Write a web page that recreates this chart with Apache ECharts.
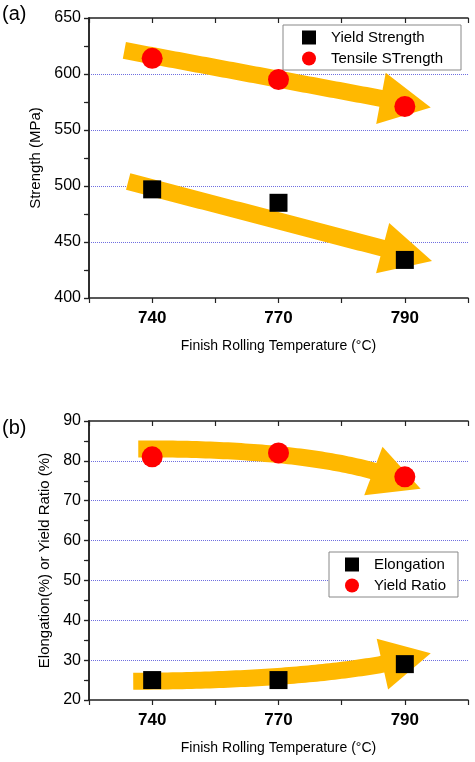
<!DOCTYPE html>
<html>
<head>
<meta charset="utf-8">
<script src="https://cdn.jsdelivr.net/npm/echarts@6/dist/echarts.min.js"></script>
<style>
  html, body { margin: 0; padding: 0; background: #fff; }
  #chart { width: 475px; height: 762px; }
</style>
</head>
<body>
<div id="chart"></div>
<script>
// categories (finish rolling temperature, degC)
var temps = ['740', '770', '790'];
// panel (a) strength, MPa
var yieldStrength = [497, 485, 434];
var tensileStrength = [614, 595, 571];
// panel (b) percent
var elongation = [25, 25, 29];
var yieldRatio = [81, 82, 76];
// tick labels
var strengthTicks = [400, 450, 500, 550, 600, 650];
var percentTicks = [20, 30, 40, 50, 60, 70, 80, 90];

// trend arrows: start, (bend control), tip as [x position, value]
var tensileArrow = [[0.56, 621], [5.41, 570]];
var yieldArrow = [[0.62, 504], [5.43, 433]];
var ratioArrow = [[0.78, 83], [4.0, 83.2], [5.25, 73]];
var elongArrow = [[0.7, 24.7], [3.9, 24.9], [5.41, 31.7]];

var FONT = 'Liberation Sans, Arial, sans-serif';
var ORANGE = '#FFB800';
var AXIS = '#222';

// categories sit on every second tick: 1, 3, 5
function xPos(i) { return i * 2 + 1; }
function pairs(vals) { return vals.map(function (v, i) { return [xPos(i), v]; }); }

function arrowSeries(points, xi, yi) {
  return {
    type: 'custom',
    name: 'arrow',
    xAxisIndex: xi,
    yAxisIndex: yi,
    z: 1,
    silent: true,
    data: points,
    encode: { x: 0, y: 1 },
    renderItem: function (params, api) {
      if (params.dataIndex !== 0) return;
      var p = points.map(function (d) { return api.coord(d); });
      var a = p[0], b = p[p.length - 1];
      var c = p.length === 3 ? p[1] : [(a[0] + b[0]) / 2, (a[1] + b[1]) / 2];
      var s = [];
      for (var k = 0; k <= 80; k++) {
        var t = k / 80, u = 1 - t;
        s.push([u * u * a[0] + 2 * u * t * c[0] + t * t * b[0],
                u * u * a[1] + 2 * u * t * c[1] + t * t * b[1]]);
      }
      var headLen = 48, headW = 52;
      var cut = s.length - 1;
      while (cut > 0 && Math.hypot(b[0] - s[cut][0], b[1] - s[cut][1]) < headLen) cut--;
      var base = s[cut];
      var dx = b[0] - base[0], dy = b[1] - base[1];
      var len = Math.hypot(dx, dy);
      dx /= len; dy /= len;
      var nx = -dy * headW / 2, ny = dx * headW / 2;
      var body = s.slice(0, cut + 1);
      body.push([base[0] + dx * 2, base[1] + dy * 2]);
      return {
        type: 'group',
        children: [
          { type: 'polyline', shape: { points: body },
            style: { stroke: ORANGE, lineWidth: 17, fill: null, lineCap: 'butt' } },
          { type: 'polygon', shape: { points: [[base[0] + nx, base[1] + ny], b, [base[0] - nx, base[1] - ny]] },
            style: { fill: ORANGE } }
        ]
      };
    }
  };
}

function xAxes(grid) {
  return [{
    type: 'value', gridIndex: grid, position: 'bottom', min: 0, max: 6, interval: 1,
    name: 'Finish Rolling Temperature (°C)', nameLocation: 'middle', nameGap: 41,
    nameTextStyle: { fontFamily: FONT, fontSize: 14, color: '#000' },
    axisLine: { lineStyle: { color: AXIS, width: 1.5 } },
    axisTick: { length: 5, lineStyle: { color: AXIS, width: 1.2 } },
    axisLabel: {
      margin: 12, fontFamily: FONT, fontSize: 17, fontWeight: 'bold', color: '#000',
      formatter: function (v) {
        var i = (v - 1) / 2;
        return (i >= 0 && i % 1 === 0 && temps[i]) ? temps[i] : '';
      }
    },
    splitLine: { show: false }
  }, {
    type: 'value', gridIndex: grid, position: 'top', min: 0, max: 6, interval: 1,
    axisLine: { lineStyle: { color: AXIS, width: 1.5 } },
    axisTick: { inside: true, length: 5, lineStyle: { color: AXIS, width: 1.2 } },
    axisLabel: { show: false },
    splitLine: { show: false }
  }];
}

function yAxes(grid, ticks, name, gap) {
  var lo = ticks[0], hi = ticks[ticks.length - 1], step = ticks[1] - ticks[0];
  return [{
    type: 'value', gridIndex: grid, position: 'left', min: lo, max: hi, interval: step,
    name: name, nameLocation: 'middle', nameGap: gap,
    nameTextStyle: { fontFamily: FONT, fontSize: 15, color: '#000' },
    axisLine: { show: true, lineStyle: { color: AXIS, width: 1.5 } },
    axisTick: { show: true, length: 5, lineStyle: { color: AXIS, width: 1.2 } },
    minorTick: { show: true, splitNumber: 2, length: 3, lineStyle: { color: AXIS, width: 1.2 } },
    axisLabel: { margin: 8, fontFamily: FONT, fontSize: 16, color: '#000' },
    splitLine: { show: true, showMinLine: false, showMaxLine: false,
      lineStyle: { color: '#6f6fe0', type: 'dotted', width: 1 } }
  }, {
    type: 'value', gridIndex: grid, position: 'right', min: lo, max: hi, interval: step,
    axisLine: { show: true, lineStyle: { color: AXIS, width: 1.5 } },
    axisTick: { show: true, inside: true, length: 5, lineStyle: { color: AXIS, width: 1.2 } },
    minorTick: { show: true, splitNumber: 2, length: 5, lineStyle: { color: AXIS, width: 1.2 } },
    axisLabel: { show: false },
    splitLine: { show: false }
  }];
}

function legend(names, left, top, pad) {
  return {
    data: names, orient: 'vertical', left: left, top: top,
    padding: pad, itemGap: 6, itemWidth: 14, itemHeight: 14,
    borderColor: '#888', borderWidth: 1, backgroundColor: '#fff',
    textStyle: { fontFamily: FONT, fontSize: 15, color: '#000', padding: [0, 0, 0, 10] }
  };
}

var chart = echarts.init(document.getElementById('chart'), null, { renderer: 'canvas' });
chart.setOption({
  animation: false,
  backgroundColor: '#fff',
  grid: [
    { left: 89, top: 18, width: 379, height: 280 },
    { left: 89, top: 421, width: 379, height: 279 }
  ],
  xAxis: xAxes(0).concat(xAxes(1)),
  yAxis: yAxes(0, strengthTicks, 'Strength (MPa)', 45).concat(yAxes(1, percentTicks, 'Elongation(%) or Yield Ratio (%)', 35)),
  legend: [
    legend(['Yield Strength', 'Tensile STrength'], 283, 25, [5, 18, 4, 19]),
    legend(['Elongation', 'Yield Ratio'], 329, 552, [5, 12, 4, 16])
  ],
  graphic: [
    { type: 'text', left: 2, top: 4, style: { text: '(a)', fontFamily: FONT, fontSize: 20, fill: '#000' } },
    { type: 'text', left: 2, top: 418, style: { text: '(b)', fontFamily: FONT, fontSize: 20, fill: '#000' } }
  ],
  series: [
    arrowSeries(tensileArrow, 0, 0),
    arrowSeries(yieldArrow, 0, 0),
    arrowSeries(ratioArrow, 2, 2),
    arrowSeries(elongArrow, 2, 2),
    { name: 'Yield Strength', type: 'scatter', xAxisIndex: 0, yAxisIndex: 0, z: 5,
      symbol: 'rect', symbolSize: 18, itemStyle: { color: '#000', opacity: 1 }, data: pairs(yieldStrength) },
    { name: 'Tensile STrength', type: 'scatter', xAxisIndex: 0, yAxisIndex: 0, z: 5,
      symbol: 'circle', symbolSize: 21, itemStyle: { color: '#ff0000', opacity: 1 }, data: pairs(tensileStrength) },
    { name: 'Elongation', type: 'scatter', xAxisIndex: 2, yAxisIndex: 2, z: 5,
      symbol: 'rect', symbolSize: 18, itemStyle: { color: '#000', opacity: 1 }, data: pairs(elongation) },
    { name: 'Yield Ratio', type: 'scatter', xAxisIndex: 2, yAxisIndex: 2, z: 5,
      symbol: 'circle', symbolSize: 21, itemStyle: { color: '#ff0000', opacity: 1 }, data: pairs(yieldRatio) }
  ]
});
</script>
</body>
</html>
